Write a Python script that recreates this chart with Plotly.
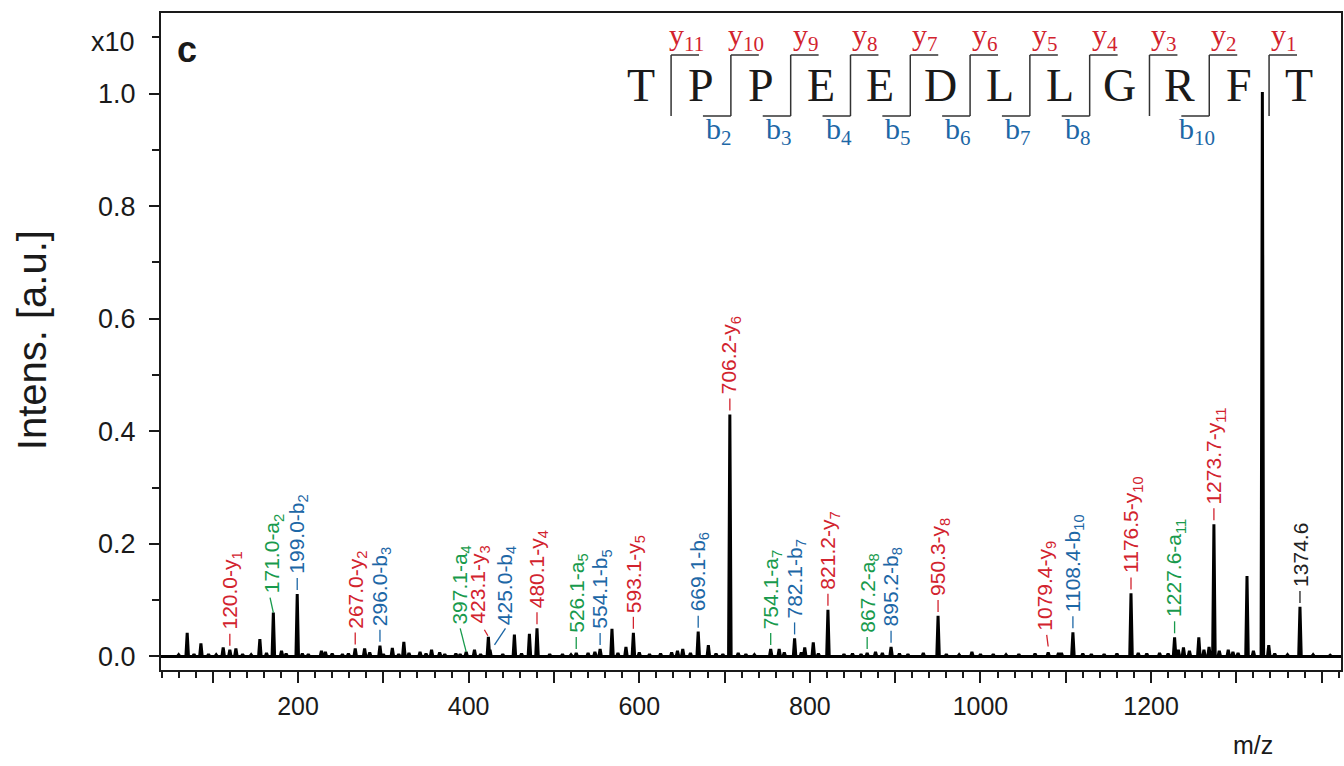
import plotly.graph_objects as go

# ---------------- data ----------------
peak_mz = [70.0, 86.1, 112.2, 120.0, 127.1, 155.2, 171.0, 180.6, 199.0, 227.4,
           267.0, 278.0, 296.0, 310.5, 324.0, 343.0, 356.5, 397.1, 406.8, 423.1,
           425.0, 453.6, 471.2, 480.1, 526.1, 554.1, 568.0, 584.4, 593.1, 644.8,
           651.0, 669.1, 681.0, 706.2, 716.0, 754.1, 764.0, 782.1, 794.0, 804.0,
           821.2, 867.2, 877.0, 895.2, 950.3, 990.0, 1079.4, 1091.5, 1108.4, 1176.5,
           1227.6, 1238.0, 1256.0, 1268.0, 1273.7, 1290.5, 1312.5, 1330.5, 1374.6]
peak_int = [0.042, 0.023, 0.016, 0.012, 0.014, 0.031, 0.078, 0.010, 0.111, 0.010,
            0.014, 0.014, 0.019, 0.015, 0.026, 0.008, 0.012, 0.008, 0.012, 0.035,
            0.012, 0.039, 0.040, 0.050, 0.006, 0.013, 0.049, 0.017, 0.042, 0.010,
            0.013, 0.044, 0.020, 0.430, 0.006, 0.013, 0.013, 0.032, 0.016, 0.025,
            0.083, 0.006, 0.008, 0.017, 0.072, 0.008, 0.007, 0.006, 0.043, 0.112,
            0.034, 0.016, 0.034, 0.017, 0.235, 0.012, 0.143, 1.003, 0.088]

# small baseline bumps (noise)
noise_mz = [60, 78, 95, 104, 135, 145, 163, 186, 205, 212, 232, 240, 252, 259, 284, 300,
            318, 330, 350, 366, 372, 385, 390, 414, 440, 462, 495, 510, 520, 540, 548,
            575, 600, 612, 625, 638, 660, 690, 698, 725, 735, 770, 790, 810, 840, 850,
            860, 885, 905, 915, 933, 960, 975, 1000, 1015, 1030, 1045, 1064, 1095, 1120,
            1130, 1145, 1160, 1185, 1195, 1210, 1220, 1232, 1245, 1262, 1280, 1296, 1302,
            1320, 1338, 1345, 1360, 1390, 1410]
noise_int = [0.003, 0.004, 0.004, 0.003, 0.004, 0.003, 0.006, 0.005, 0.005, 0.004, 0.008,
             0.005, 0.004, 0.005, 0.007, 0.004, 0.004, 0.006, 0.005, 0.007, 0.004, 0.005,
             0.004, 0.004, 0.004, 0.005, 0.004, 0.004, 0.003, 0.006, 0.008, 0.006, 0.007,
             0.004, 0.005, 0.007, 0.006, 0.005, 0.004, 0.004, 0.003, 0.007, 0.007, 0.005,
             0.004, 0.005, 0.004, 0.006, 0.005, 0.004, 0.006, 0.004, 0.003, 0.004, 0.004,
             0.003, 0.004, 0.005, 0.006, 0.005, 0.004, 0.004, 0.005, 0.006, 0.005, 0.006,
             0.005, 0.012, 0.010, 0.012, 0.010, 0.008, 0.006, 0.010, 0.020, 0.005, 0.003,
             0.003, 0.002]

label_mz = [120.0, 171.0, 199.0, 267.0, 296.0, 397.1, 423.1, 425.0, 480.1, 526.1,
            554.1, 593.1, 669.1, 706.2, 754.1, 782.1, 821.2, 867.2, 895.2, 950.3,
            1079.4, 1108.4, 1176.5, 1227.6, 1273.7, 1374.6]
label_ion = ["y1", "a2", "b2", "y2", "b3", "a4", "y3", "b4", "y4", "a5",
             "b5", "y5", "b6", "y6", "a7", "b7", "y7", "a8", "b8", "y8",
             "y9", "b10", "y10", "a11", "y11", ""]

sequence = list("TPPEEDLLGRFT")
y_ion_sites = [1, 2, 3, 4, 5, 6, 7, 8, 9, 10, 11]   # cleavage site index -> y(12-site)
b_ion_sites = [2, 3, 4, 5, 6, 7, 8, 10]

x_ticks = [100, 200, 300, 400, 500, 600, 700, 800, 900, 1000, 1100, 1200, 1300, 1400]
x_ticktext = ["", "200", "", "400", "", "600", "", "800", "", "1000", "", "1200", "", ""]
y_ticks = [0.0, 0.2, 0.4, 0.6, 0.8, 1.0]
y_ticktext = ["0.0", "0.2", "0.4", "0.6", "0.8", "1.0"]

# ---------------- styles ----------------
COL = {"y": "#d2232e", "b": "#1d67a6", "a": "#189a4c", "": "#222222"}
SANS = "Liberation Sans, Arial, Helvetica, sans-serif"
SERIF = "Liberation Serif, Times New Roman, serif"
INK = "#1a1a1a"
HALF_W = 1.5  # half base width of each stick (in m/z units)

# leader/text pixel offsets: (lead_dx0, lead_dy0, lead_dx1, lead_dy1, text_dx, text_dy)
default_off = (0, 4, 0, 16, 1, 19)
special_off = {
    171.0: (0, 0, -3.3, 15, -0.7, 18.5),
    397.1: (0, 0, -6, 23.5, -5, 26),
    423.1: (-0.5, 1, -4, 7, -9, 12.5),
    425.0: (4.5, 4.7, 15.5, 21.4, 15.5, 23.5),
    1079.4: (0, 6, -1.5, 17.6, -3, 21),
}

# ---------------- spectrum trace ----------------
pts = sorted(list(zip(peak_mz, peak_int)) + list(zip(noise_mz, noise_int)))
xs, ys = [38.0], [0.0]
for m, h in pts:
    xs += [m - HALF_W, m, m + HALF_W]
    ys += [0.0, h, 0.0]
xs.append(1425.0)
ys.append(0.0)

fig = go.Figure()
fig.add_trace(go.Scatter(x=xs, y=ys, mode="lines",
                         line=dict(color="black", width=3),
                         hoverinfo="skip", showlegend=False))

# ---------------- peak labels ----------------
int_of = dict(zip(peak_mz, peak_int))
shapes = []
annotations = []
for m, ion in zip(label_mz, label_ion):
    kind = ion[:1]
    col = COL[kind]
    h = int_of[m]
    dx0, dy0, dx1, dy1, tdx, tdy = special_off.get(m, default_off)
    shapes.append(dict(type="line", xref="x", yref="y",
                       xsizemode="pixel", ysizemode="pixel",
                       xanchor=m, yanchor=h,
                       x0=dx0, x1=dx1, y0=dy0, y1=dy1,
                       line=dict(color=col, width=1.3)))
    txt = f"{m:.1f}" + (f"-{ion[0]}<sub>{ion[1:]}</sub>" if ion else "")
    annotations.append(dict(x=m, y=h, xref="x", yref="y", text=txt,
                            textangle=-90, showarrow=False,
                            xanchor="center", yanchor="bottom",
                            xshift=tdx, yshift=tdy, borderpad=0,
                            font=dict(family=SANS, size=21, color=col)))

# ---------------- sequence diagram (paper coords) ----------------
L, W = 161.0, 1182.0
T, H = 13.0, 657.0
def px(x):
    return (x - L) / W
def py(y):
    return (T + H - y) / H

x_first = 642.0
step = 59.9
top_y, bot_y = 55.0, 116.0
hlen = 28.0
for i, res in enumerate(sequence):
    annotations.append(dict(x=px(x_first + i * step), y=py(85), xref="paper", yref="paper",
                            text=res, showarrow=False, xanchor="center", yanchor="middle",
                            font=dict(family=SERIF, size=46, color=INK)))
n = len(sequence)
for s in range(1, n):
    xs_site = x_first + (s - 0.5) * step
    has_y = s in y_ion_sites
    has_b = s in b_ion_sites
    shapes.append(dict(type="line", xref="paper", yref="paper",
                       x0=px(xs_site), x1=px(xs_site), y0=py(top_y), y1=py(bot_y),
                       line=dict(color="#333333", width=1.5)))
    if has_y:
        shapes.append(dict(type="line", xref="paper", yref="paper",
                           x0=px(xs_site), x1=px(xs_site + hlen), y0=py(top_y), y1=py(top_y),
                           line=dict(color="#333333", width=1.5)))
        annotations.append(dict(x=px(xs_site + 15), y=py(37), xref="paper", yref="paper",
                                text=f"y<sub>{n - s}</sub>", showarrow=False,
                                xanchor="center", yanchor="middle",
                                font=dict(family=SERIF, size=30, color=COL["y"])))
    if has_b:
        shapes.append(dict(type="line", xref="paper", yref="paper",
                           x0=px(xs_site - hlen), x1=px(xs_site), y0=py(bot_y), y1=py(bot_y),
                           line=dict(color="#333333", width=1.5)))
        annotations.append(dict(x=px(xs_site - 12), y=py(131), xref="paper", yref="paper",
                                text=f"b<sub>{s}</sub>", showarrow=False,
                                xanchor="center", yanchor="middle",
                                font=dict(family=SERIF, size=30, color=COL["b"])))

# ---------------- misc text ----------------
annotations += [
    dict(x=px(32), y=py(340), xref="paper", yref="paper", text="Intens. [a.u.]",
         textangle=-90, showarrow=False, xanchor="center", yanchor="middle",
         font=dict(family=SANS, size=40, color=INK)),
    dict(x=px(113), y=py(42), xref="paper", yref="paper", text="x10",
         showarrow=False, xanchor="center", yanchor="middle",
         font=dict(family=SANS, size=27, color=INK)),
    dict(x=px(187), y=py(49), xref="paper", yref="paper", text="<b>c</b>",
         showarrow=False, xanchor="center", yanchor="middle",
         font=dict(family=SANS, size=36, color=INK)),
    dict(x=px(1255), y=py(745), xref="paper", yref="paper", text="m/z",
         showarrow=False, xanchor="center", yanchor="middle",
         font=dict(family=SANS, size=25, color=INK)),
]

fig.update_layout(
    width=1344, height=766,
    margin=dict(l=161, r=1, t=13, b=96),
    paper_bgcolor="white", plot_bgcolor="white",
    shapes=shapes, annotations=annotations,
    showlegend=False,
)
fig.update_xaxes(range=[39.3, 1422.7], showgrid=False, zeroline=False,
                 showline=True, mirror=True, linecolor=INK, linewidth=2,
                 tickmode="array", tickvals=x_ticks, ticktext=x_ticktext,
                 ticks="outside", ticklen=11, tickwidth=1.5, tickcolor=INK,
                 ticklabelstandoff=2,
                 minor=dict(dtick=20, tick0=0, ticks="outside", ticklen=6,
                            tickwidth=1.5, tickcolor=INK, showgrid=False),
                 tickfont=dict(family=SANS, size=25, color=INK))
fig.update_yaxes(range=[-0.0241, 1.1432], showgrid=False, zeroline=False,
                 showline=True, mirror=True, linecolor=INK, linewidth=2,
                 tickmode="array", tickvals=y_ticks, ticktext=y_ticktext,
                 ticks="outside", ticklen=10, tickwidth=1.5, tickcolor=INK,
                 ticklabelstandoff=8,
                 minor=dict(dtick=0.1, tick0=0, ticks="outside", ticklen=7,
                            tickwidth=1.5, tickcolor=INK, showgrid=False),
                 tickfont=dict(family=SANS, size=27, color=INK))

fig.write_html("out.html")
